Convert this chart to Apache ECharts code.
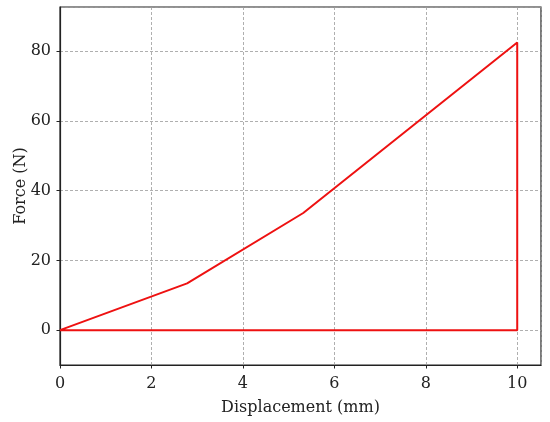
<!DOCTYPE html>
<html>
<head>
<meta charset="utf-8">
<script src="https://cdn.jsdelivr.net/npm/echarts@6/dist/echarts.min.js"></script>
<style>
  html, body { margin: 0; padding: 0; background: #fff; }
  #chart { width: 550px; height: 422px; }
</style>
</head>
<body>
<div id="chart"></div>
<script>
// displacement (mm) / force (N), closed loop
const displacement = [0, 2.78, 5.32, 10, 10, 0];
const force = [0, 13.4, 33.6, 82.5, 0, 0];
const xRange = [0, 10.52];
const yRange = [-10, 92.7];

const font = 'DejaVu Serif';
const gridLine = { show: true, lineStyle: { color: '#9a9a9a', width: 0.8, type: [3, 2] } };

let myChart = echarts.init(document.getElementById('chart'));

let option = {
    animation: false,
    backgroundColor: '#fff',
    grid: {
        left: 60, right: 9, top: 7, bottom: 57,
        outerBoundsMode: 'none',
        containLabel: false,
        show: true, borderColor: '#222', borderWidth: 1.2
    },
    xAxis: {
        type: 'value',
        min: xRange[0],
        max: xRange[1],
        minInterval: 2,
        maxInterval: 2,
        name: 'Displacement (mm)',
        nameLocation: 'middle',
        nameGap: 35,
        nameMoveOverlap: false,
        nameTextStyle: { fontFamily: font, fontSize: 16, color: '#222' },
        axisLine: { onZero: false, lineStyle: { color: '#222', width: 1.2 } },
        axisTick: { show: true, length: 3.5, lineStyle: { color: '#222' } },
        axisLabel: { fontFamily: font, fontSize: 16, color: '#222', margin: 11, showMaxLabel: false },
        splitLine: gridLine
    },
    yAxis: {
        type: 'value',
        min: yRange[0],
        max: yRange[1],
        minInterval: 20,
        maxInterval: 20,
        name: 'Force (N)',
        nameLocation: 'middle',
        nameGap: 31,
        nameMoveOverlap: false,
        nameTextStyle: { fontFamily: font, fontSize: 16, color: '#222' },
        axisLine: { show: true, onZero: false, lineStyle: { color: '#222', width: 1.2 } },
        axisTick: { show: true, length: 3.5, lineStyle: { color: '#222' } },
        axisLabel: { fontFamily: font, fontSize: 16, color: '#222', margin: 9, showMinLabel: false, showMaxLabel: false },
        splitLine: gridLine
    },
    series: [
        {
            type: 'line',
            data: displacement.map((d, i) => [d, force[i]]),
            symbol: 'none',
            lineStyle: { color: '#ee1111', width: 2 },
            z: 5
        }
    ]
};
myChart.setOption(option);
</script>
</body>
</html>
